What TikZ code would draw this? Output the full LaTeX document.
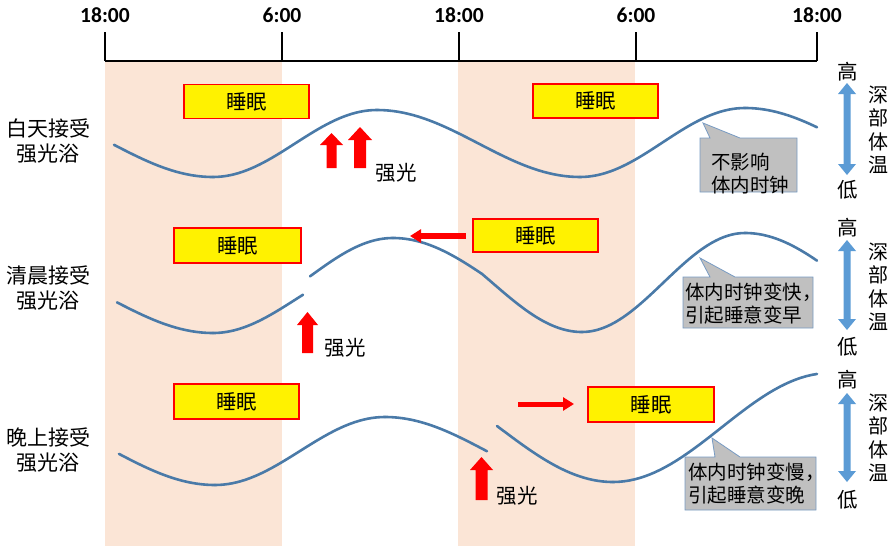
\documentclass[tikz,border=0pt]{standalone}
\usepackage{fontspec}
\setmainfont{Carlito}
\newfontfamily\cjk{Noto Sans CJK SC}
\usetikzlibrary{arrows.meta}
\definecolor{band}{RGB}{251,229,214}
\definecolor{curveblue}{RGB}{74,122,168}
\definecolor{arrowblue}{RGB}{91,155,213}
\definecolor{calloutgray}{RGB}{192,192,192}
\definecolor{calloutedge}{RGB}{120,155,195}
\tikzset{
  curve/.style={draw=curveblue,line width=2.6pt,line cap=round},
  sleepbox/.style={draw=red,fill=yellow,line width=1.2pt,minimum width=125pt,minimum height=34pt,inner sep=0pt,font=\cjk\fontsize{20.5}{23}\selectfont},
  rowlbl/.style={align=center,inner sep=0pt,font=\cjk\fontsize{21}{25}\selectfont},
  timelbl/.style={inner sep=0pt,font=\bfseries\fontsize{21.5}{24}\selectfont},
  cjktext/.style={inner sep=0pt,font=\cjk\fontsize{20.5}{23}\selectfont},
  calltext/.style={inner sep=0pt,align=left,anchor=west,font=\cjk\fontsize{19.5}{23}\selectfont},
  vtext/.style={inner sep=0pt,align=center,font=\cjk\fontsize{20}{23.5}\selectfont},
  callout/.style={fill=calloutgray,draw=calloutedge,line width=0.8pt},
  axisline/.style={draw=black,line width=1.8pt},
  redarrow/.style={draw=red,line width=5.5pt,-{Triangle[length=11pt,width=13pt]}}
}
\newcommand{\halfwave}[6]{\draw[curve] plot[domain=#5:#6,samples=40] (\x,{(#2+#4)/2+(#2-#4)/2*cos(((\x-#1)/(#3-#1))*180)});}
\newcommand{\blockup}[6]{\fill[red] (#1-#6,#4) -- (#1-#6,#3) -- (#1-#5,#3) -- (#1,#2) -- (#1+#5,#3) -- (#1+#6,#3) -- (#1+#6,#4) -- cycle;}
\newcommand{\vdouble}[3]{\fill[arrowblue] (#1,#2) -- (#1+9,#2+11) -- (#1+3.5,#2+11) -- (#1+3.5,#3-11) -- (#1+9,#3-11) -- (#1,#3) -- (#1-9,#3-11) -- (#1-3.5,#3-11) -- (#1-3.5,#2+11) -- (#1-9,#2+11) -- cycle;}
\newcommand{\calloutshape}[8]{\filldraw[callout] (#1,#2) -- (#7,#2) -- (#5,#6) -- (#8,#2) -- (#3,#2) -- (#3,#4) -- (#1,#4) -- cycle;}
\begin{document}
\begin{tikzpicture}[x=1pt,y=-1pt]
\useasboundingbox (0,0) rectangle (892,546);
% night bands
\fill[band] (105,62) rectangle (282,546);
\fill[band] (458,62) rectangle (635,546);
% time axis
\draw[axisline] (105,61) -- (817,61);
\foreach \tx in {105,282,459,636,817}{\draw[axisline] (\tx,32) -- (\tx,61);}
\node[timelbl] (t1) at (105,15) {18:00};
\node[timelbl] (t2) at (282,15) {6:00};
\node[timelbl] (t3) at (459,15) {18:00};
\node[timelbl] (t4) at (636,15) {6:00};
\node[timelbl] (t5) at (817,15) {18:00};
% row labels
\node[rowlbl] (r1) at (48,141) {白天接受\\强光浴};
\node[rowlbl] (r2) at (48,288) {清晨接受\\强光浴};
\node[rowlbl] (r3) at (48,450) {晚上接受\\强光浴};
% sleep boxes
\node[sleepbox] (s1a) at (246.5,101.5) {睡眠};
\node[sleepbox] (s1b) at (595.5,101) {睡眠};
\node[sleepbox,minimum width=127pt,minimum height=35pt] (s2a) at (237.5,245.5) {睡眠};
\node[sleepbox,minimum height=33pt] (s2b) at (535.5,235.5) {睡眠};
\node[sleepbox,minimum height=35pt] (s3a) at (236.5,401.5) {睡眠};
\node[sleepbox,minimum width=126pt,minimum height=35pt] (s3b) at (651,404.5) {睡眠};
% row 1 curve
\halfwave{10}{110}{213}{177}{114}{213}
\halfwave{213}{177}{377}{110}{213}{377}
\halfwave{377}{110}{580}{177}{377}{580}
\halfwave{580}{177}{745}{108}{580}{745}
\halfwave{745}{108}{948}{177}{745}{817}
% row 2 curve
\halfwave{10}{266}{213}{333}{117}{213}
\halfwave{213}{333}{378}{266}{213}{303}
\halfwave{228}{314}{393}{238}{310}{393}
\halfwave{393}{238}{596}{327}{393}{482}
\halfwave{402}{233}{582}{332}{482}{582}
\halfwave{582}{332}{745}{233}{582}{745}
\halfwave{745}{233}{948}{332}{745}{817}
% row 3 curve
\halfwave{12}{417}{215}{485}{119}{215}
\halfwave{215}{485}{385}{417}{215}{385}
\halfwave{385}{417}{588}{485}{385}{487}
\halfwave{385}{373}{613}{482}{497}{613}
\halfwave{613}{482}{830}{373}{613}{817}
% light arrows
\blockup{331.5}{133}{145}{168}{11.5}{5}
\blockup{360}{127}{140}{168}{12}{6}
\blockup{307.5}{312}{325}{353}{10.5}{5.5}
\blockup{481.5}{457}{470}{500}{11.5}{6}
\node[cjktext] (l1) at (396,173) {强光};
\node[cjktext] (l2) at (345,348) {强光};
\node[cjktext] (l3) at (517,496) {强光};
% shift arrows
\coordinate (h2s) at (466,236);
\coordinate (h2e) at (410,236);
\draw[redarrow] (h2s) -- (h2e);
\coordinate (h3s) at (518,404);
\coordinate (h3e) at (574,404);
\draw[redarrow,line width=5pt] (h3s) -- (h3e);
% callouts
\calloutshape{700}{138}{797}{192}{703}{123}{710}{740}
\node[calltext] (c1) at (711,173.5) {不影响\\体内时钟};
\calloutshape{683}{277}{813}{328}{700}{258}{710}{735}
\node[calltext] (c2) at (685,303.5) {体内时钟变快，\\引起睡意变早};
\calloutshape{685}{457}{816}{510}{712}{438}{715}{740}
\node[calltext] (c3) at (688,484) {体内时钟变慢，\\引起睡意变晚};
% temperature scales
\vdouble{847}{83}{175}
\vdouble{847}{240}{330}
\vdouble{847}{393}{482}
\node[cjktext] (hi1) at (848,72) {高};
\node[cjktext] (lo1) at (848,190) {低};
\node[cjktext] (hi2) at (848,228) {高};
\node[cjktext] (lo2) at (848,347) {低};
\node[cjktext] (hi3) at (848,380) {高};
\node[cjktext] (lo3) at (848,500) {低};
\node[vtext] (v1) at (878,130) {深\\部\\体\\温};
\node[vtext] (v2) at (878,287) {深\\部\\体\\温};
\node[vtext] (v3) at (878,438) {深\\部\\体\\温};
\end{tikzpicture}
\end{document}
